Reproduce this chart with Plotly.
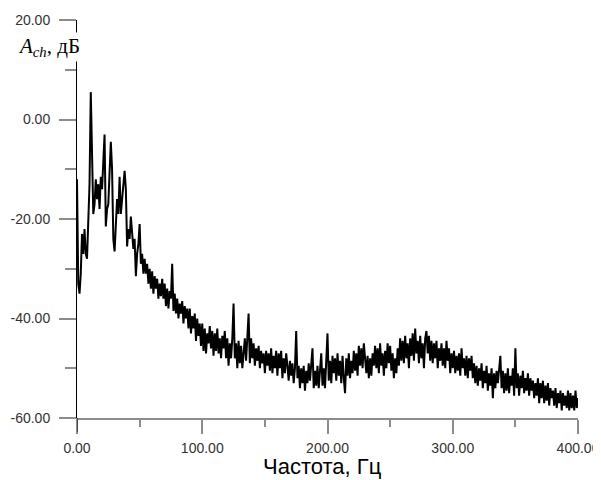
import plotly.graph_objects as go

# Frequency step 1 Hz, 0..400 Hz
freq_start = 0
freq_step = 1

amp_db = [
    # 0-9
    -12, -33, -35, -31, -23, -27, -22, -27, -28, -19,
    # 10-19
    -13, 5.5, -9, -19, -17, -12, -16, -13, -18, -11.5,
    # 20-29
    -14, -7, -3, -21.5, -18, -17, -12, -4.5, -10, -24,
    # 30-39
    -26.5, -20, -16, -19, -11.5, -19, -16, -14, -10.3, -14,
    # 40-49
    -25.5, -22, -24, -19.5, -23, -26, -24, -31.5, -27, -25,
    # 50-59
    -21, -29, -27, -31, -28, -31, -29, -33, -30, -34,
    # 60-69
    -30.5, -35, -31.5, -34, -32, -36, -33, -35.5, -32, -36,
    # 70-79
    -33, -37.5, -34, -38, -34.5, -36, -29, -38.5, -35, -39,
    # 80-89
    -36, -40, -37, -39, -36.5, -41, -37.5, -40, -38, -42,
    # 90-99
    -38, -43, -39.5, -42, -39, -44.5, -40, -43.5, -41, -45.5,
    # 100-109
    -41, -46.5, -42, -47, -43, -45, -41.5, -46, -42.5, -47.5,
    # 110-119
    -43, -46.5, -42, -47, -44, -48, -43.5, -46, -42.5, -48,
    # 120-129
    -44, -49.5, -45, -48, -44, -37, -48, -45, -50, -44.5,
    # 130-139
    -49, -45.5, -50, -46, -44, -48.5, -43.5, -39, -49, -44,
    # 140-149
    -48, -45, -49.5, -46, -48.5, -45.5, -50, -46.5, -49, -47,
    # 150-159
    -51, -46.5, -49.5, -47, -50.5, -46, -51, -47.5, -50, -46.5,
    # 160-169
    -51.5, -47, -50, -46.5, -52, -48, -51, -47, -49.5, -52.5,
    # 170-179
    -48.5, -51.5, -49, -53, -50, -42.5, -52, -49.5, -54, -50,
    # 180-189
    -53, -49.5, -54.5, -50.5, -53, -49, -52.5, -50, -46, -54,
    # 190-199
    -50.5, -53.5, -49.5, -54, -51, -47, -53.5, -50, -54, -49.5,
    # 200-209
    -43, -52.5, -48.5, -53, -47.5, -51, -48, -52.5, -47, -51.5,
    # 210-219
    -48.5, -53, -47.5, -52, -55, -48, -51.5, -47, -52, -48.5,
    # 220-229
    -51, -46.5, -50.5, -47, -51.5, -45.5, -49.5, -46, -50, -45,
    # 230-239
    -48.5, -51, -47.5, -52, -48, -51.5, -47, -49.5, -45.5, -50,
    # 240-249
    -46, -51, -45, -49.5, -47, -51.5, -46.5, -50, -45, -49,
    # 250-259
    -45.5, -50.5, -47, -52, -48, -51, -46, -49.5, -44, -48.5,
    # 260-269
    -44.5, -49, -43.5, -48, -45, -50, -44, -47.5, -43, -48.5,
    # 270-279
    -42, -47, -44.5, -49, -43.5, -48, -45, -50, -44, -42.5,
    # 280-289
    -47, -43.5, -48.5, -44.5, -49, -45, -48, -44.5, -50, -46,
    # 290-299
    -48.5, -45, -49.5, -46, -50, -44.5, -48.5, -46, -51, -47,
    # 300-309
    -50, -46.5, -51, -47.5, -50.5, -47, -51.5, -46, -50, -48,
    # 310-319
    -51.5, -47.5, -52, -48, -50.5, -47.5, -52, -49, -53, -49.5,
    # 320-329
    -53.5, -50, -52.5, -49, -54, -50.5, -53, -49.5, -54.5, -51,
    # 330-339
    -53.5, -50, -56, -51, -54, -50.5, -53, -49.5, -47.5, -54,
    # 340-349
    -50.5, -55, -51, -54.5, -50, -55, -51.5, -53.5, -50, -55.5,
    # 350-359
    -46, -54, -51, -55.5, -51.5, -54, -50.5, -55, -52, -54.5,
    # 360-369
    -51, -55.5, -52, -54.5, -52.5, -56, -53, -55.5, -52, -57,
    # 370-379
    -53, -56, -52.5, -57, -53.5, -56.5, -53, -57.5, -54, -56,
    # 380-389
    -54.5, -57.5, -54, -58, -55, -57, -54.5, -58.5, -55, -57.5,
    # 390-399
    -55.5, -58, -54.5, -58.5, -55, -58, -55.5, -58.5, -54.5, -58,
    # 400
    -56,
]

freq_hz = [freq_start + i * freq_step for i in range(len(amp_db))]

x_tick_vals = [0, 100, 200, 300, 400]
x_tick_text = ["0.00", "100.00", "200.00", "300.00", "400.00"]
y_tick_vals = [-60, -40, -20, 0, 20]
y_tick_text = ["-60.00", "-40.00", "-20.00", "0.00", "20.00"]

x_title = "Частота, Гц"
y_title = "<i>A</i><sub><i>ch</i></sub>, дБ"

TICK_GRAY = "#8c8c8c"
LABEL_COLOR = "#333333"

fig = go.Figure()
fig.add_trace(go.Scatter(
    x=freq_hz, y=amp_db, mode="lines",
    line=dict(color="black", width=2),
    showlegend=False, hoverinfo="skip",
))

# page body has an 8px margin: figure sized so that page = 601x480
fig.update_layout(
    width=593, height=472,
    margin=dict(l=69.3, r=22.7, t=11.5, b=61.7, autoexpand=False),
    paper_bgcolor="white", plot_bgcolor="white",
    font=dict(family="Liberation Sans, Arial, sans-serif", size=14, color=LABEL_COLOR),
    xaxis=dict(
        range=[0, 400], tickmode="array", tickvals=x_tick_vals, ticktext=x_tick_text,
        ticks="outside", ticklen=14, tickwidth=1.5, tickcolor=TICK_GRAY,
        showline=True, linecolor=TICK_GRAY, linewidth=1.5,
        showgrid=False, zeroline=False, automargin=False,
        minor=dict(dtick=50, tick0=0, ticks="outside", ticklen=7, tickwidth=1.5,
                   tickcolor=TICK_GRAY, showgrid=False),
        tickfont=dict(size=14, color=LABEL_COLOR),
        ticklabelstandoff=2,
    ),
    yaxis=dict(
        range=[-60, 20], tickmode="array", tickvals=y_tick_vals, ticktext=y_tick_text,
        ticks="outside", ticklen=17, tickwidth=1.5, tickcolor=TICK_GRAY,
        showline=True, linecolor="black", linewidth=1,
        showgrid=False, zeroline=False, automargin=False,
        minor=dict(dtick=10, tick0=0, ticks="outside", ticklen=11, tickwidth=1.5,
                   tickcolor=TICK_GRAY, showgrid=False),
        tickfont=dict(size=14, color=LABEL_COLOR),
        ticklabelstandoff=6,
    ),
)

# black extension of the y axis below the x axis (at x = 0)
fig.add_shape(type="line", xref="x", yref="paper", x0=0, x1=0, y0=-0.036, y1=0,
              line=dict(color="black", width=1))

# y-axis title with white background covering the axis line
fig.add_annotation(
    text=y_title, xref="paper", yref="paper",
    x=-0.122, y=0.932, xanchor="left", yanchor="middle", showarrow=False,
    font=dict(family="Liberation Serif, Times New Roman, serif", size=21, color="black"),
    bgcolor="white", borderpad=1,
)

# x-axis title
fig.add_annotation(
    text=x_title, xref="paper", yref="paper",
    x=(322 - 77) / 501, y=-0.122, xanchor="center", yanchor="middle", showarrow=False,
    font=dict(family="Liberation Sans, Arial, sans-serif", size=22, color="black"),
)

fig.write_html("out.html")
